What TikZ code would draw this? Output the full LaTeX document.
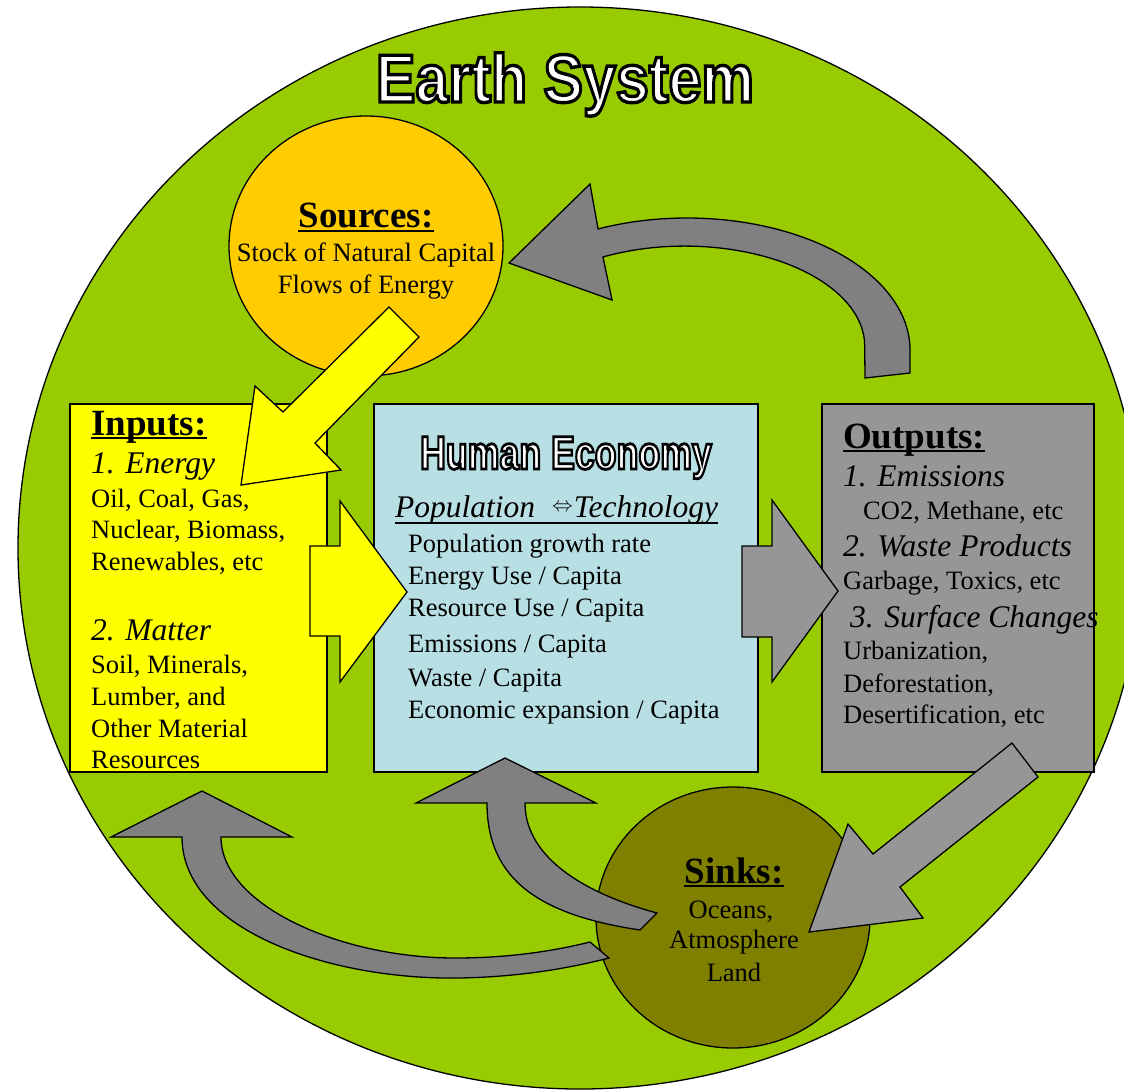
\documentclass[tikz,border=0pt]{standalone}
\usepackage{fontspec}
\setmainfont{Liberation Serif}
\newfontfamily\titlefont{Liberation Sans}
\usetikzlibrary{shapes.geometric}
\definecolor{earthgreen}{RGB}{153,204,0}
\definecolor{srcorange}{RGB}{255,204,0}
\definecolor{inyellow}{RGB}{255,255,0}
\definecolor{econblue}{RGB}{184,223,228}
\definecolor{outgray}{RGB}{150,150,150}
\definecolor{curvegray}{RGB}{128,128,128}
\definecolor{sinkolive}{RGB}{128,128,0}
\newcommand{\bodyfs}{\fontsize{26.5}{32}\selectfont}
\newcommand{\headfs}{\fontsize{37}{42}\selectfont\bfseries}
\newcommand{\itemfs}{\fontsize{31.5}{36}\selectfont\itshape}
\newcommand{\outlinedtext}[2]{\color{white}\special{pdf:code 0 0 0 RG}\addfontfeature{FakeBold=#1}#2}
\begin{document}
\begin{tikzpicture}[x=1pt,y=-1pt,
  shapeline/.style={draw=black,line width=1.3pt},
  arrowshape/.style={draw=black,line width=1.3pt},
  body/.style={inner sep=0pt,anchor=base west,font=\bodyfs},
  bodyc/.style={inner sep=0pt,anchor=base,font=\bodyfs},
  head/.style={inner sep=0pt,anchor=base west,font=\headfs},
  headc/.style={inner sep=0pt,anchor=base,font=\headfs},
  item/.style={inner sep=0pt,anchor=base west,font=\itemfs},
  bigtitle/.style={inner sep=0pt,anchor=base,font={\titlefont\bfseries\fontsize{68}{70}\selectfont}},
  econtitle/.style={inner sep=0pt,anchor=base,font={\titlefont\bfseries\fontsize{47}{50}\selectfont}},
  uline/.style={line width=2pt}
]
\useasboundingbox (0,0) rectangle (1124,1090);
% Earth system ellipse
\begin{scope}
\clip (0,0) rectangle (1124,1090);
\filldraw[shapeline,fill=earthgreen] (580,548) ellipse [x radius=562, y radius=541];
\end{scope}

% main shapes
\node[shapeline,fill=srcorange,ellipse,minimum width=274pt,minimum height=260pt,inner sep=0pt] (sources) at (366,246) {};
\node[shapeline,fill=inyellow,rectangle,minimum width=257pt,minimum height=368pt,inner sep=0pt] (inputs) at (198.5,588) {};
\node[shapeline,fill=econblue,rectangle,minimum width=384pt,minimum height=368pt,inner sep=0pt] (economy) at (566,588) {};
\node[shapeline,fill=outgray,rectangle,minimum width=272pt,minimum height=368pt,inner sep=0pt] (outputs) at (958,588) {};
\node[shapeline,fill=sinkolive,ellipse,minimum width=274pt,minimum height=261pt,inner sep=0pt] (sinks) at (733,917.5) {};

% yellow arrow sources -> inputs
\filldraw[arrowshape,fill=inyellow] (389,307) -- (419,337) -- (315,443) -- (341,470) -- (241,485) -- (255,386) -- (283,412) -- cycle;
% yellow arrow inputs -> economy
\filldraw[arrowshape,fill=inyellow] (310,546) -- (340,546) -- (340,501) -- (407,592) -- (340,682) -- (340,636) -- (310,636) -- cycle;
% gray arrow economy -> outputs
\filldraw[arrowshape,fill=outgray] (742,546) -- (772,546) -- (772,500) -- (838,591) -- (772,682) -- (772,637) -- (742,637) -- cycle;
% gray arrow outputs -> sinks
\filldraw[arrowshape,fill=outgray] (1012,743) -- (1038,777) -- (900,887) -- (923,918) -- (809,932) -- (848,824) -- (873,854) -- cycle;
% curved arrow outputs -> sources
\filldraw[arrowshape,fill=curvegray] (865,378) -- (910,373) -- (910,350)
  arc[start angle=0,end angle=-113.5,x radius=223,y radius=132]
  -- (590,184) -- (509,263) -- (612,300) -- (603,257)
  arc[start angle=-117,end angle=0,x radius=180,y radius=100] -- cycle;
% curved arrow sinks -> inputs
\filldraw[arrowshape,fill=curvegray] (182,837) -- (111,837) -- (202,791) -- (292,837) -- (221,837)
  .. controls (221,905) and (340,958) .. (455,958)
  .. controls (505,958) and (550,952) .. (590,942)
  -- (609,958)
  .. controls (570,968) and (520,977) .. (459,978)
  .. controls (330,980) and (182,930) .. (182,837)
  -- cycle;
% curved arrow sinks -> economy
\filldraw[arrowshape,fill=curvegray] (487,803) -- (416,803) -- (505,758) -- (596,803) -- (525,803)
  .. controls (525,860) and (590,895) .. (657,913)
  -- (640,930)
  .. controls (540,915) and (487,880) .. (487,803)
  -- cycle;

% Title with outline
\node[bigtitle] (title) at (565,102) {\outlinedtext{5}{\scalebox{0.87}[1]{Earth System}}};

% Sources text
\node[headc] (srcH) at (366,227) {Sources:};
\draw[uline] ([yshift=-4pt]srcH.base west) -- ([yshift=-4pt]srcH.base east);
\node[bodyc] (src1) at (366,261) {Stock of Natural Capital};
\node[bodyc] (src2) at (366,293) {Flows of Energy};

% Inputs text
\node[head] (inH) at (91,435) {Inputs:};
\draw[uline] ([yshift=-3pt]inH.base west) -- ([yshift=-3pt]inH.base east);
\node[item] (in1) at (91,473) {1. Energy};
\node[body] (in1a) at (91,507) {Oil, Coal, Gas,};
\node[body] (in1b) at (91,538) {Nuclear, Biomass,};
\node[body] (in1c) at (91,570) {Renewables, etc};
\node[item] (in2) at (91,640) {2. Matter};
\node[body] (in2a) at (91,673) {Soil, Minerals,};
\node[body] (in2b) at (91,705) {Lumber, and};
\node[body] (in2c) at (91,737) {Other Material};
\node[body] (in2d) at (91,768) {Resources};

% Human economy text
\node[econtitle] (econT) at (566,469) {\outlinedtext{6}{\scalebox{0.76}[1]{Human Economy}}};
\node[item] (pop) at (395,517) {Population\hspace{17pt}\raisebox{6pt}{\fontsize{20}{20}\selectfont$\Leftrightarrow$}\hspace{1pt}Technology};
\draw[line width=1.5pt] ([yshift=-6pt]pop.base west) -- ([yshift=-6pt]pop.base east);
\node[body] (e1) at (408,552) {Population growth rate};
\node[body] (e2) at (408,584) {Energy Use / Capita};
\node[body] (e3) at (408,616) {Resource Use / Capita};
\node[body] (e4) at (408,652) {Emissions / Capita};
\node[body] (e5) at (408,686) {Waste / Capita};
\node[body] (e6) at (408,718) {Economic expansion / Capita};

% Outputs text
\node[head] (outH) at (843,448) {Outputs:};
\draw[uline] ([yshift=-3pt]outH.base west) -- ([yshift=-3pt]outH.base east);
\node[item] (o1) at (843,486) {1. Emissions};
\node[body] (o1a) at (863,519) {CO2, Methane, etc};
\node[item] (o2) at (843,556) {2. Waste Products};
\node[body] (o2a) at (843,589) {Garbage, Toxics, etc};
\node[item] (o3) at (850,627) {3. Surface Changes};
\node[body] (o3a) at (843,659) {Urbanization,};
\node[body] (o3b) at (843,692) {Deforestation,};
\node[body] (o3c) at (843,723) {Desertification, etc};

% Sinks text
\node[headc] (sinkH) at (734,883) {Sinks:};
\draw[uline] ([yshift=-3pt]sinkH.base west) -- ([yshift=-3pt]sinkH.base east);
\node[bodyc] (s1) at (731,918) {Oceans,};
\node[bodyc] (s2) at (734,948) {Atmosphere};
\node[bodyc] (s3) at (734,981) {Land};
\end{tikzpicture}
\end{document}
